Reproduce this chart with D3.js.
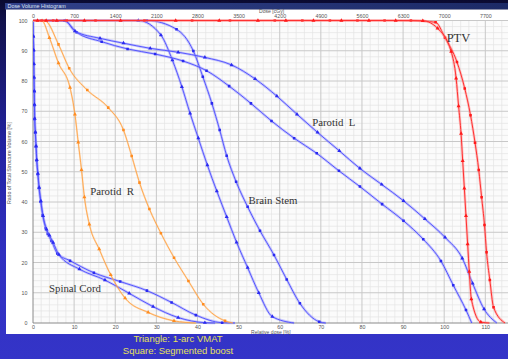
<!DOCTYPE html>
<html>
<head>
<meta charset="utf-8">
<script src="https://cdn.jsdelivr.net/npm/d3@7"></script>
<style>
  html, body { margin: 0; padding: 0; width: 508px; height: 359px; overflow: hidden; background: #2a2aa8; }
  svg { display: block; }
</style>
</head>
<body>
<svg id="chart" width="508" height="359"></svg>
<script>
// Axis ticks
const relDoseTicks = [0, 10, 20, 30, 40, 50, 60, 70, 80, 90, 100, 110];
const cgyTicks = [0, 700, 1400, 2100, 2800, 3500, 4200, 4900, 5600, 6300, 7000, 7700];
const volumeTicks = [0, 10, 20, 30, 40, 50, 60, 70, 80, 90, 100];
const prescriptionCGy = 7000; // 100 % relative dose

// DVH curves: [relative dose %, volume %]
// "Vmat" = 1-arc VMAT (triangles), "Seg" = segmented boost (squares)
const ptvVmat = [[0,100],[1.1,100],[3.2,100],[5.8,100],[12.5,100],[21.3,100],[34.7,100],[45.3,100],[54.7,100],
  [61.5,100],[68.2,100],[75.0,100],[81.7,100],[88.2,100],[94.8,99.9],[98.4,97.4],[101.7,89.7],[102.9,80.9],
  [103.5,71.7],[104.1,62.6],[104.5,53.6],[104.9,44.5],[105.3,35.4],[105.7,26.1],[106.1,17.0],[106.6,7.9],
  [108.9,0.3],[111.0,0]];
const ptvSeg = [[0,100],[2.1,100],[4.9,100],[8.2,100],[15.2,100],[27.1,100],[38.7,100],[47.9,100],[58.8,100],
  [65.5,100],[72.2,100],[78.9,100],[85.5,100],[91.9,100],[97.9,99.4],[100.2,94.3],[103.1,86.3],[105.0,77.5],
  [106.4,68.7],[107.5,59.6],[108.4,50.6],[109.1,41.6],[109.8,32.4],[110.3,23.4],[111.1,14.2],[112.0,5.2],
  [114.8,0]];

const parotidLVmat = [[0,100],[7.8,99.9],[10.2,96.5],[16.3,94.1],[22.0,92.5],[28.5,90.8],[35.3,89.5],[41.8,87.8],
  [48.3,85.3],[54.0,80.7],[59.3,75.0],[64.2,69.0],[69.2,63.0],[74.5,56.9],[79.5,51.1],[84.8,45.8],[90.1,40.4],
  [95.3,34.4],[100.2,28.3],[104.4,21.4],[106.9,13.1],[109.7,4.6],[112.8,0]];
const parotidLSeg = [[0,100],[7.6,99.9],[10.6,96.1],[16.7,93.0],[23.0,90.6],[29.7,88.9],[36.5,86.6],[42.2,83.4],
  [47.7,78.3],[53.0,72.6],[58.0,66.8],[63.5,61.1],[69.0,56.1],[74.4,50.3],[79.5,45.1],[84.9,39.3],[90.1,33.8],
  [94.9,27.7],[99.2,20.5],[102.2,12.5],[105.3,4.3],[106.7,0]];

const brainStemVmat = [[0,100],[25.6,100],[31.1,95.2],[33.9,86.9],[36.2,78.1],[38.2,69.3],[40.2,61.1],[42.4,52.2],
  [44.7,43.6],[47.1,35.1],[49.5,26.7],[52.2,18.3],[54.9,10.0],[58.2,2.1],[63.5,0]];
const brainStemSeg = [[0,100],[27.7,100],[34.9,97.1],[39.0,89.9],[41.3,81.4],[43.5,72.6],[45.4,63.8],[47.1,55.3],
  [49.4,46.7],[52.2,38.4],[55.2,30.5],[58.6,22.5],[61.7,14.4],[64.9,6.5],[69.6,0.4],[71.2,0]];

const parotidRVmat = [[0,100],[2.2,99.9],[4.0,94.3],[6.2,85.9],[9.0,77.8],[10.2,69.0],[11.0,59.7],[11.8,50.6],
  [12.5,41.6],[13.7,32.6],[16.1,24.4],[18.9,15.9],[22.4,8.2],[28.0,3.5],[34.3,0.7],[39.6,0]];
const parotidRSeg = [[0,100],[2.9,99.9],[6.2,92.1],[8.8,84.2],[13.2,77.0],[18.3,71.2],[22.0,63.8],[24.0,55.2],
  [25.9,46.4],[28.3,37.7],[31.1,29.7],[34.3,21.6],[37.8,13.9],[41.4,6.2],[46.7,0.7],[48.6,0]];

const spinalCordSeg = [[0,100],[0.07,94.6],[0.17,90.0],[0.2,85.5],[0.24,81.0],[0.3,76.5],[0.35,72.0],[0.41,67.4],
  [0.56,62.9],[0.73,58.3],[0.9,53.7],[1.17,49.2],[1.46,44.6],[1.87,40.1],[2.36,35.6],[3.1,31.3],[3.6,29.4],
  [4.5,27.1],[5.9,23.0],[9.0,20.6],[14.8,16.6],[21.2,13.7],[27.7,10.7],[33.7,6.8],[39.6,2.6],[46.0,0.1],[49.1,0]];
const spinalCordVmat = [[0,100],[0.08,94.8],[0.18,90.2],[0.21,85.7],[0.25,81.2],[0.31,76.7],[0.36,72.2],[0.43,67.6],
  [0.58,63.1],[0.75,58.5],[0.93,53.9],[1.2,49.4],[1.5,44.8],[1.92,40.3],[2.45,35.4],[3.3,31.0],[4.0,29.0],
  [4.9,26.6],[6.3,22.6],[11.3,17.8],[17.5,14.2],[23.4,9.8],[29.2,5.4],[35.3,1.8],[41.8,0.1],[44.3,0]];

const structureLabels = [
  {text: "PTV", dose: 100.6, vol: 92.9, size: 12.5},
  {text: "Parotid  L", dose: 67.9, vol: 65.1, size: 10.8},
  {text: "Parotid  R", dose: 13.9, vol: 42.3, size: 10.8},
  {text: "Brain Stem", dose: 52.4, vol: 39.3, size: 10.8},
  {text: "Spinal Cord", dose: 3.9, vol: 10.2, size: 10.8}
];
const legendLines = ["Triangle: 1-arc VMAT", "Square: Segmented boost"];

// Layout
const W = 508, H = 359;
const panel = {left: 6, top: 9.5, bottom: 334};
const plot = {left: 33, right: 508, top: 20.5, bottom: 323};

const svg = d3.select("#chart");
const defs = svg.append("defs");

const bg = defs.append("linearGradient").attr("id", "bg").attr("x1", 0).attr("y1", 0).attr("x2", 0).attr("y2", 1);
[[0, "#0a0a30"], [0.06, "#12124c"], [0.4, "#2323a0"], [0.7, "#3030c0"], [1, "#3434c8"]]
  .forEach(([o, c]) => bg.append("stop").attr("offset", o).attr("stop-color", c));
const bar = defs.append("linearGradient").attr("id", "bar").attr("x1", 0).attr("y1", 0).attr("x2", 1).attr("y2", 0);
[[0, "#31418a"], [1, "#1c2a66"]].forEach(([o, c]) => bar.append("stop").attr("offset", o).attr("stop-color", c));

defs.append("clipPath").attr("id", "plotClip").append("rect")
  .attr("x", plot.left).attr("y", plot.top - 3).attr("width", plot.right - plot.left).attr("height", plot.bottom - plot.top + 6);

svg.append("rect").attr("width", W).attr("height", H).attr("fill", "url(#bg)");

// window title strip and white panel
svg.append("rect").attr("x", panel.left - 1).attr("y", 3).attr("width", W - panel.left + 1).attr("height", panel.top - 3)
  .attr("fill", "url(#bar)");
svg.append("text").attr("x", panel.left + 1.5).attr("y", 8.2).text("Dose Volume Histogram")
  .attr("font-family", "Liberation Sans, Arial, sans-serif").attr("font-size", 5.4).attr("fill", "#dfe4f4");
svg.append("rect").attr("x", panel.left).attr("y", panel.top).attr("width", W - panel.left).attr("height", panel.bottom - panel.top)
  .attr("fill", "#ffffff");

// scales
const x = d3.scaleLinear().domain([0, (plot.right - plot.left) / 4.112]).range([plot.left, plot.right]);
const xDose = d3.scaleLinear().domain(x.domain().map(d => d * prescriptionCGy / 100)).range(x.range());
const y = d3.scaleLinear().domain([0, 100]).range([plot.bottom, plot.top]);

// plot background and grid
svg.append("rect").attr("x", plot.left).attr("y", plot.top).attr("width", plot.right - plot.left)
  .attr("height", plot.bottom - plot.top).attr("fill", "#fbfbfb");

const grid = svg.append("g");
const minorX = d3.range(0, x.domain()[1], 2).filter(d => d % 10 !== 0);
const minorY = d3.range(0, 100, 2).filter(d => d % 10 !== 0);
grid.selectAll(".mx").data(minorX).join("line")
  .attr("x1", d => x(d)).attr("x2", d => x(d)).attr("y1", plot.top).attr("y2", plot.bottom)
  .attr("stroke", "#e4e4e4").attr("stroke-width", 0.7);
grid.selectAll(".my").data(minorY).join("line")
  .attr("y1", d => y(d)).attr("y2", d => y(d)).attr("x1", plot.left).attr("x2", plot.right)
  .attr("stroke", "#e4e4e4").attr("stroke-width", 0.7);
grid.selectAll(".Mx").data(relDoseTicks.slice(1)).join("line")
  .attr("x1", d => x(d)).attr("x2", d => x(d)).attr("y1", plot.top).attr("y2", plot.bottom)
  .attr("stroke", "#c8c8c8").attr("stroke-width", 1);
grid.selectAll(".My").data(volumeTicks.slice(1)).join("line")
  .attr("y1", d => y(d)).attr("y2", d => y(d)).attr("x1", plot.left).attr("x2", plot.right)
  .attr("stroke", "#c8c8c8").attr("stroke-width", 1);

// axes
const tickFont = "Liberation Sans, Arial, sans-serif";
function styleAxis(g) {
  g.select(".domain").remove();
  g.selectAll(".tick line").remove();
  g.selectAll("text").attr("font-family", tickFont).attr("font-size", 5.3).attr("fill", "#555");
}
svg.append("g").attr("transform", `translate(0,${plot.bottom})`)
  .call(d3.axisBottom(x).tickValues(relDoseTicks).tickSize(0).tickPadding(2.2).tickFormat(d3.format("d")))
  .call(styleAxis);
svg.append("g").attr("transform", `translate(0,${plot.top})`)
  .call(d3.axisTop(xDose).tickValues(cgyTicks).tickSize(0).tickPadding(2.3).tickFormat(d3.format("d")))
  .call(styleAxis);
svg.append("g").attr("transform", `translate(${plot.left},0)`)
  .call(d3.axisLeft(y).tickValues(volumeTicks).tickSize(0).tickPadding(5.5).tickFormat(d3.format("d")))
  .call(styleAxis);

svg.append("line").attr("x1", plot.left).attr("x2", plot.left).attr("y1", plot.top).attr("y2", plot.bottom)
  .attr("stroke", "#8a8a8a").attr("stroke-width", 1);
svg.append("line").attr("x1", plot.left).attr("x2", plot.right).attr("y1", plot.bottom).attr("y2", plot.bottom)
  .attr("stroke", "#8a8a8a").attr("stroke-width", 1);

svg.append("text").attr("x", 259).attr("y", 12.9).text("Dose [cGy]")
  .attr("font-family", tickFont).attr("font-size", 5.1).attr("fill", "#555");
svg.append("text").attr("x", 251).attr("y", 333.6).text("Relative dose [%]")
  .attr("font-family", tickFont).attr("font-size", 5.1).attr("fill", "#555");
svg.append("text").attr("transform", "translate(11,163) rotate(-90)").attr("text-anchor", "middle")
  .text("Ratio of Total Structure Volume [%]")
  .attr("font-family", tickFont).attr("font-size", 5.3).attr("fill", "#555");

// curves
const line = d3.line().x(d => x(d[0])).y(d => y(d[1])).curve(d3.curveMonotoneX);
const curves = svg.append("g").attr("clip-path", "url(#plotClip)");

const blue = {core: "#4a4aff", halo: "#8c8cff", mark: "#2a2af0", haloW: 2.6, coreW: 0.9};
const orange = {core: "#ff9c38", halo: "#ffc080", mark: "#ff8c20", haloW: 1.8, coreW: 0.8};
const red = {core: "#ff3030", halo: "#ff8080", mark: "#ff1a1a", haloW: 2.6, coreW: 1.0};

const series = [
  {data: spinalCordSeg, style: blue, shape: "square"},
  {data: spinalCordVmat, style: blue, shape: "triangle"},
  {data: brainStemSeg, style: blue, shape: "square"},
  {data: brainStemVmat, style: blue, shape: "triangle"},
  {data: parotidLSeg, style: blue, shape: "square"},
  {data: parotidLVmat, style: blue, shape: "triangle"},
  {data: parotidRSeg, style: orange, shape: "square"},
  {data: parotidRVmat, style: orange, shape: "triangle"},
  {data: ptvSeg, style: red, shape: "square"},
  {data: ptvVmat, style: red, shape: "triangle"}
];

const squareSym = d3.symbol().type(d3.symbolSquare).size(6.5);
const triSym = d3.symbol().type(d3.symbolTriangle).size(7);

series.forEach(s => {
  const g = curves.append("g");
  g.append("path").attr("d", line(s.data)).attr("fill", "none")
    .attr("stroke", s.style.halo).attr("stroke-opacity", 0.45).attr("stroke-width", s.style.haloW);
  g.append("path").attr("d", line(s.data)).attr("fill", "none")
    .attr("stroke", s.style.core).attr("stroke-width", s.style.coreW);
  g.selectAll("path.m").data(s.data.slice(1, -1)).join("path")
    .attr("class", "m")
    .attr("transform", d => `translate(${x(d[0])},${y(d[1])})`)
    .attr("d", s.shape === "square" ? squareSym() : triSym())
    .attr("fill", s.style.mark);
});

// structure names
svg.selectAll(".lbl").data(structureLabels).join("text")
  .attr("x", d => x(d.dose)).attr("y", d => y(d.vol))
  .attr("font-family", "Liberation Serif, Times New Roman, serif")
  .attr("font-size", d => d.size).attr("fill", "#333")
  .style("white-space", "pre").attr("xml:space", "preserve")
  .text(d => d.text);

// marker legend below the panel
svg.selectAll(".leg").data(legendLines).join("text")
  .attr("x", 178).attr("y", (d, i) => 342 + i * 11.5).attr("text-anchor", "middle")
  .attr("font-family", "Liberation Sans, Arial, sans-serif").attr("font-size", 9.5).attr("fill", "#e6e05a")
  .text(d => d);
</script>
</body>
</html>
